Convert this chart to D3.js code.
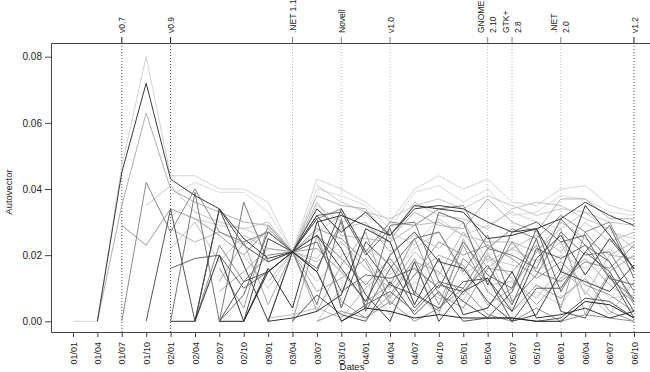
<!DOCTYPE html>
<html>
<head>
<meta charset="utf-8">
<script src="https://cdn.jsdelivr.net/npm/d3@7"></script>
<style>
	body { margin: 0; background: #fff; }
	text { font-family: "Liberation Sans", Arial, sans-serif; fill: #222; }
</style>
</head>
<body>
<div id="vis-container"></div>
<script>
// quarterly dates on the x axis
var dates = ["01/01","01/04","01/07","01/10","02/01","02/04","02/07","02/10","03/01","03/04","03/07","03/10",
	"04/01","04/04","04/07","04/10","05/01","05/04","05/07","05/10","06/01","06/04","06/07","06/10"];

// release events on top
var eventDates = ["01/07","02/01","03/04","03/10","04/04","05/04","05/07","06/01","06/10"];
var eventLabels = [["v0.7"],["v0.9"],[".NET 1.1"],["Novell"],["v1.0"],["GNOME","2.10"],["GTK+","2.8"],[".NET","2.0"],["v1.2"]];

var yTicks = [0, 0.02, 0.04, 0.06, 0.08];

// autovector values per series, null = not yet present
var s1  = [0,0,0.047,0.080,0.044,0.044,0.040,0.040,0.036,0.021,0.043,0.040,0.036,0.030,0.040,0.044,0.040,0.043,0.036,0.035,0.040,0.041,0.035,0.033];
var s2  = [null,0,0.045,0.072,0.043,0.038,0.034,0.025,0.019,0.021,0.034,0.027,0.033,0.026,0.034,0.035,0.034,0.030,0.027,0.028,0.031,0.036,0.032,0.029];
var s3  = [null,0,0.035,0.063,0.040,0.036,0.033,0.030,0.029,0.021,0.038,0.035,0.034,0.025,0.033,0.029,0.028,0.037,0.030,0.027,0.037,0.037,0.031,0.031];
var s4  = [null,null,0,0.042,0.027,0.040,0.027,0.024,0.027,0.021,0.031,0.034,0.021,0.030,0.029,0.034,0.035,0.022,0.028,0.025,0.032,0.027,0.030,0.015];
var s5  = [null,null,0.029,0.023,0.034,0.031,0.026,0.020,0.028,0.021,0.028,0.025,0.018,0.005,0.014,0.024,0.020,0.023,0.019,0.013,0.018,0.011,0.008,0.003];
var s6  = [null,null,null,0,0.034,0,0.034,0.023,0.018,0.021,0.015,0.034,0.021,0.011,0.008,0.004,0.012,0.013,0,0.010,0.010,0.021,0.015,0.003];
var s7  = [null,null,null,null,0,0,0.020,0,0.016,0.004,0.030,0.032,0.029,0.026,0.035,0.034,0.033,0.025,0.026,0.028,0.015,0.035,0.026,0.016];
var s8  = [null,null,null,null,0,0.039,0,0.036,0.018,0.021,0.005,0.031,0.004,0.029,0.030,0.012,0.010,0.022,0.020,0.016,0.031,0.023,0.013,0.007];
var s9  = [null,null,null,null,0.016,0.019,0.020,0.010,0.015,0.021,0.024,0.009,0.014,0.013,0.016,0.010,0.024,0.014,0.010,0.028,0.009,0.021,0.029,0.013];
var s10 = [null,null,null,null,0.028,0.024,0.027,0.023,0.027,0.021,0.036,0.026,0.025,0.024,0.029,0.030,0.026,0.024,0.024,0.021,0.030,0.025,0.020,0.019];
var s11 = [null,null,null,null,0.038,0.042,0.039,0.039,0.033,0.021,0.040,0.038,0.035,0.028,0.039,0.041,0.036,0.040,0.032,0.033,0.038,0.037,0.033,0.032];
var s12 = [null,null,null,null,null,0,0.034,0.017,0,0.021,0.032,0.022,0.008,0,0.018,0,0.009,0.013,0.003,0.019,0.026,0.014,0.025,0.016];
var s13 = [null,null,null,null,null,null,0,0.012,0.015,0.021,0.031,0.004,0.024,0.017,0.004,0.012,0.006,0.001,0.001,0,0.001,0.007,0.006,0.001];
var s14 = [null,null,null,null,null,0,0.023,0.012,0.020,0.021,0.026,0.019,0.011,0.019,0.009,0.003,0.019,0.012,0.024,0.015,0.012,0.018,0.016,0.023];
var s15 = [null,null,null,null,null,null,0,0,0.015,0.021,0.015,0,0.004,0.003,0.001,0.002,0.001,0.001,0.001,0,0,0.006,0.005,0.001];
var s16 = [null,null,null,null,null,null,0,0.008,0.027,0.021,0.032,0.033,0.020,0.028,0.008,0.033,0.030,0.011,0.027,0.030,0.024,0.026,0.013,0.011];
var s17 = [null,null,null,null,null,null,0.012,0.024,0.005,0.021,0.003,0.017,0.027,0.005,0.014,0.020,0.017,0.005,0.010,0.021,0.028,0.002,0.015,0.020];
var s18 = [null,null,null,null,null,null,0.016,0.004,0.029,0.021,0.022,0.015,0.006,0.011,0.025,0.008,0.004,0.016,0.015,0.023,0.004,0.027,0.018,0.005];
var s19 = [null,null,null,null,null,null,null,0,0.025,0.021,0.026,0.016,0.006,0.020,0.027,0.018,0.016,0.006,0,0.002,0.015,0.012,0.009,0.017];
var s20 = [null,null,null,null,null,null,null,0.020,0.010,0.021,0.012,0.020,0.022,0.014,0.022,0.027,0.014,0.019,0.017,0.015,0.020,0.016,0.022,0.015];
var s21 = [null,null,null,null,null,null,null,null,0,0.001,0.003,0.008,0.028,0.024,0.005,0.019,0.002,0.004,0.015,0.001,0.002,0.004,0.001,0.003];
var s22 = [null,null,null,null,null,null,null,null,0,0.021,0.016,0.030,0.003,0.016,0.025,0.027,0.015,0.026,0.006,0.014,0.027,0.020,0.021,0.009];
var s23 = [null,null,null,null,null,null,null,null,0.001,0.002,0.004,0.001,0.010,0.017,0.009,0.002,0.025,0.011,0.012,0.007,0.016,0.009,0.002,0.012];
var s24 = [null,null,null,null,null,null,null,null,null,0,0.026,0.006,0.001,0.008,0.019,0.005,0.023,0.009,0.003,0.011,0.007,0.013,0.003,0];
var s25 = [null,null,null,null,null,null,null,null,null,0,0.008,0.002,0,0.012,0.002,0.009,0,0.001,0.009,0.025,0.003,0.001,0.014,0.001];
var s26 = [null,null,null,null,null,null,null,null,null,null,0,0.010,0.012,0.002,0.012,0.007,0.006,0.021,0.003,0.009,0.005,0.015,0.007,0.008];
var s27 = [null,null,null,null,null,null,null,null,null,null,null,0,0.005,0.009,0.003,0.011,0.009,0.017,0.005,0.022,0.019,0.023,0.018,0.006];
var s28 = [null,null,null,null,null,null,null,null,null,null,0.041,0.036,0.033,0.031,0.035,0.037,0.034,0.038,0.035,0.032,0.034,0.033,0.030,0.029];
var s29 = [null,null,null,null,0.022,0.030,0.018,0.026,0.022,0.021,0.019,0.028,0.030,0.021,0.026,0.022,0.030,0.018,0.022,0.026,0.021,0.030,0.024,0.027];
var s30 = [null,null,null,null,null,0.031,0.029,0.028,0.025,0.021,0.035,0.030,0.032,0.027,0.023,0.031,0.026,0.029,0.033,0.030,0.028,0.033,0.027,0.025];
var s31 = [null,null,null,null,null,null,0.009,0.015,0.022,0.021,0.009,0.013,0.019,0.007,0.018,0.015,0.008,0.020,0.013,0.005,0.013,0.019,0.011,0.006];
var s32 = [null,null,null,null,null,null,null,null,0.012,0.021,0.018,0.024,0.016,0.010,0.021,0.014,0.027,0.016,0.022,0.018,0.024,0.008,0.020,0.024];
var s33 = [null,null,null,null,null,null,null,null,null,null,0,0.003,0.001,0.006,0,0.004,0.010,0.002,0,0.004,0,0.002,0.001,0];
var s34 = [null,null,null,0.035,0.041,0.033,0.030,0.028,0.030,0.021,0.027,0.032,0.029,0.024,0.036,0.032,0.031,0.028,0.034,0.036,0.035,0.031,0.028,0.022];

var series = [s1,s2,s3,s4,s5,s6,s7,s8,s9,s10,s11,s12,s13,s14,s15,s16,s17,s18,s19,s20,s21,s22,s23,s24,s25,s26,s27,s28,s29,s30,s31,s32,s33,s34];
// grey level of each line (drawn light first)
var shades = ["#d4d4d4","#3a3a3a","#b0b0b0","#8a8a8a","#9a9a9a","#555","#333","#777","#666","#bbb","#dadada","#444",
	"#555","#888","#222","#666","#aaa","#999","#444","#ccc","#333","#777","#bbb","#999","#555","#ccc","#666","#c8c8c8",
	"#c0c0c0","#d0d0d0","#a8a8a8","#b8b8b8","#909090","#c4c4c4"];

var width = 650;
var height = 372;

var svg = d3.select("#vis-container")
	.append("svg")
	.attr("width", width)
	.attr("height", height);

var x = d3.scalePoint().domain(dates).range([73, 634]);
var y = d3.scaleLinear().domain([0, 0.08]).range([321.3, 56.7]);

// vertical event lines
eventDates.forEach(function(d, i) {
	var dark = i < 2 || i == 8;
	svg.append("line")
		.attr("x1", x(d)).attr("x2", x(d))
		.attr("y1", 43).attr("y2", 332)
		.attr("stroke", dark ? "#555" : "#bbb")
		.attr("stroke-width", 1)
		.attr("stroke-dasharray", "1,2");
	svg.append("line")
		.attr("x1", x(d)).attr("x2", x(d))
		.attr("y1", 37).attr("y2", 43)
		.attr("stroke", dark ? "#222" : "#888");
	var lines = eventLabels[i];
	lines.forEach(function(t, j) {
		var dx = lines.length == 1 ? 3.5 : (j == 0 ? -3.5 : 8.5);
		svg.append("text")
			.attr("transform", "translate(" + (x(d) + dx) + ",33) rotate(-90)")
			.attr("text-anchor", "start")
			.style("font-size", "8.5px")
			.text(t);
	});
});

// order lines so lighter ones are below
var order = d3.range(series.length).sort(function(a, b) {
	return d3.hsl(shades[b]).l - d3.hsl(shades[a]).l;
});

var line = d3.line()
	.defined(function(d) { return d != null; })
	.x(function(d, i) { return x(dates[i]); })
	.y(function(d) { return y(d); });

order.forEach(function(k) {
	svg.append("path")
		.attr("d", line(series[k]))
		.attr("fill", "none")
		.attr("stroke", shades[k])
		.attr("stroke-width", 1);
});

// box (right side runs off the picture)
svg.append("path")
	.attr("d", "M" + (width + 5) + ",43.5H51.5V332.5H" + (width + 5))
	.attr("fill", "none")
	.attr("stroke", "#444")
	.attr("stroke-width", 1);

// y axis
var yAxis = svg.append("g")
	.attr("transform", "translate(51,0)")
	.call(d3.axisLeft(y).tickValues(yTicks).tickFormat(d3.format(".2f")).tickSize(6).tickPadding(3));
yAxis.select(".domain").remove();
yAxis.selectAll(".tick line").attr("stroke", "#444");
yAxis.selectAll(".tick text").style("font-size", "10px").style("font-family", "Liberation Sans, Arial, sans-serif").attr("fill", "#222");

// x axis
var xAxis = svg.append("g")
	.attr("transform", "translate(0,332)")
	.call(d3.axisBottom(x).tickSize(5));
xAxis.select(".domain").remove();
xAxis.selectAll(".tick line").attr("stroke", "#444");
xAxis.selectAll(".tick text")
	.attr("transform", "rotate(-90)")
	.attr("text-anchor", "end")
	.attr("x", -10)
	.attr("y", 0)
	.attr("dy", "0.35em")
	.style("font-size", "9px")
	.style("font-family", "Liberation Sans, Arial, sans-serif")
	.attr("fill", "#222");

// axis titles
svg.append("text")
	.attr("x", 352).attr("y", 370)
	.attr("text-anchor", "middle")
	.style("font-size", "9.5px")
	.text("Dates");

svg.append("text")
	.attr("transform", "translate(12,192) rotate(-90)")
	.attr("text-anchor", "middle")
	.style("font-size", "9.5px")
	.text("Autovector");
</script>
</body>
</html>
